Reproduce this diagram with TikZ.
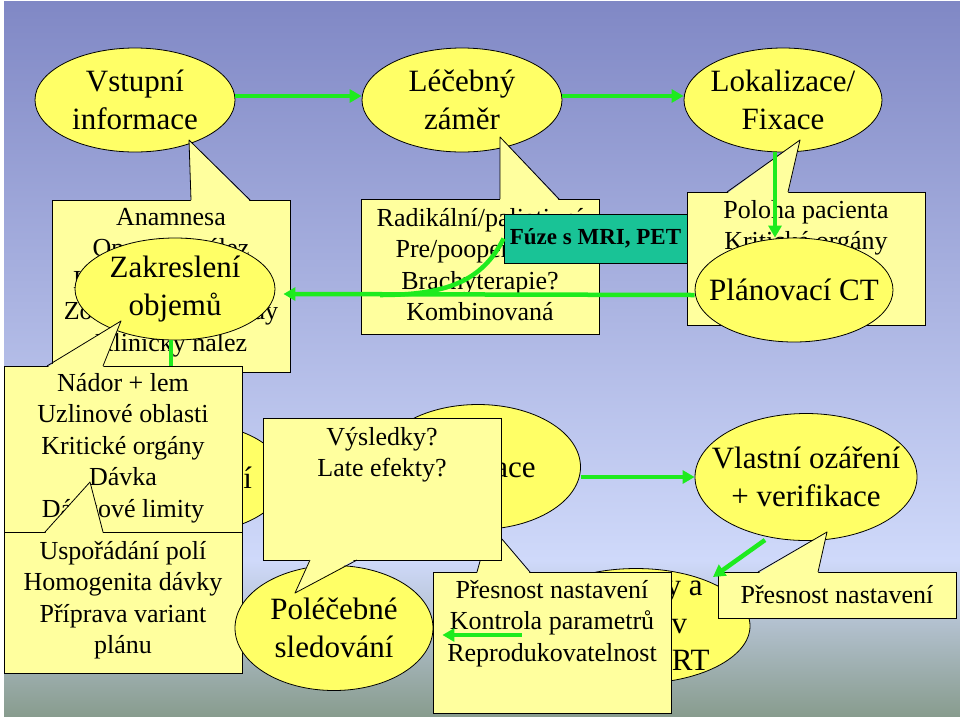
\documentclass[tikz,border=0pt]{standalone}
\usepackage{fontspec}
\setmainfont{Liberation Serif}
\usetikzlibrary{shapes.geometric,arrows.meta}
\definecolor{bgtop}{RGB}{128,136,197}
\definecolor{bgmid}{RGB}{207,217,250}
\definecolor{bgbot}{RGB}{136,156,142}
\definecolor{stagefill}{RGB}{255,255,102}
\definecolor{notefill}{RGB}{255,255,158}
\definecolor{flowgreen}{RGB}{30,235,30}
\definecolor{fusefill}{RGB}{25,195,150}
\tikzset{
  stage/.style={ellipse,draw=black,line width=0.8pt,fill=stagefill,
    minimum width=200pt,minimum height=104pt,inner xsep=-30pt,inner ysep=-25pt,
    align=center,font=\fontsize{31}{37.5}\selectfont},
  notebox/.style={rectangle,draw=black,line width=0.8pt,fill=notefill,
    minimum width=238pt,inner sep=0pt,align=center,
    font=\fontsize{26}{31.5}\selectfont},
  notetext/.style={anchor=north,inner sep=0pt,align=center,
    font=\fontsize{26}{31.5}\selectfont,execute at begin node=\strut},
  notetip/.style={fill=notefill},
  tipedge/.style={draw=black,line width=0.8pt,line join=round},
  flow/.style={line width=4.5pt,flowgreen,-{Triangle[length=12pt,width=13pt]}},
  flowline/.style={line width=4.5pt,flowgreen},
  fusebox/.style={rectangle,draw=black,line width=0.8pt,fill=fusefill,
    minimum width=183pt,minimum height=49pt,inner sep=0pt,
    font=\fontsize{23}{27}\selectfont\bfseries}
}
\begin{document}
\begin{tikzpicture}[x=1pt,y=-1pt]
  \useasboundingbox (0,0) rectangle (960,716);
  % background
  \fill[white] (0,0) rectangle (960,716);
  \fill[top color=bgtop,bottom color=bgmid] (4,1) rectangle (960,560);
  \fill[top color=bgmid,bottom color=bgbot] (4,560) rectangle (960,716);

  % top row
  \node[stage] (vstup) at (135,100) {Vstupní\\informace};
  \node[stage] (zamer) at (462,100) {Léčebný\\záměr};
  \node[stage,minimum width=198pt] (lokal) at (783,100) {Lokalizace/\\Fixace};
  \draw[flow] ([yshift=4pt]vstup.east) -- ([yshift=4pt]zamer.west);
  \draw[flow] ([yshift=4pt]zamer.east) -- ([yshift=4pt]lokal.west);

  % input information
  \node[notebox,minimum height=172pt] (anambox) at (171,286) {};
  \fill[notetip] (191,201.5) -- (189,140) -- (250,201.5) -- cycle;
  \draw[tipedge] (191,200) -- (189,140) -- (250,200);
  \node[notetext] (anam) at (171,208)
    {Anamnesa\\Operační nález\\Histologický nález\\Zobrazovací metody\\Klinický nález};
  \node[stage,minimum height=102pt] (zakres) at (175,289) {Zakreslení\\objemů};

  % treatment intent
  \node[notebox,minimum height=135pt] (radikbox) at (480,266.5) {};
  \fill[notetip] (500,200.5) -- (500,137) -- (559,200.5) -- cycle;
  \draw[tipedge] (500,199) -- (500,137) -- (559,199);
  \node[notetext] (radik) at (480,208)
    {Radikální/paliativní\\Pre/pooperační?\\Brachyterapie?\\Kombinovaná};

  % localisation
  \node[notebox,minimum height=133pt] (polohabox) at (806,258.5) {};
  \fill[notetip] (727,193.5) -- (800,140) -- (788,193.5) -- cycle;
  \draw[tipedge] (727,192) -- (800,140) -- (788,192);
  \node[notetext] (poloha) at (806,200) {Poloha pacienta\\Kritické orgány};
  \node[stage,minimum width=198pt] (planct) at (794,290) {Plánovací CT};
  \draw[flow] ([xshift=-8pt]lokal.south) -- ([xshift=-19pt]planct.north);

  \node[fusebox] (fuze) at (595.5,238.5) {Fúze s MRI, PET};
  \draw[flow] ([yshift=-5pt]planct.west) -- ([xshift=8pt,yshift=-5pt]zakres.east);
  \draw[flowline] (fuze.west) .. controls (482,282) and (445,295) .. (380,295);

  % planning
  \node[stage,minimum width=190pt,minimum height=110pt] (planov) at (190,478) {Plánování};
  \draw[flow] ([xshift=-4pt]zakres.south) -- ([xshift=-19pt]planov.north);

  \node[notebox,minimum height=166pt] (nadorbox) at (123,449) {};
  \fill[notetip] (47,367.5) -- (121,321) -- (103,367.5) -- cycle;
  \draw[tipedge] (47,366) -- (121,321) -- (103,366);
  \node[notetext] (nador) at (123,373)
    {Nádor + lem\\Uzlinové oblasti\\Kritické orgány\\Dávka\\Dávkové limity};

  \node[notebox,minimum height=141pt] (usporbox) at (123,602.5) {};
  \fill[notetip] (45,533.5) -- (90,482) -- (103,533.5) -- cycle;
  \draw[tipedge] (45,532) -- (90,482) -- (103,532);
  \node[notetext] (uspor) at (123,541)
    {Uspořádání polí\\Homogenita dávky\\Příprava variant\\plánu};

  % simulation and checks
  \node[stage,minimum width=205pt,minimum height=125pt] (simul) at (478,467) {Simulace};
  \node[stage,minimum width=228pt,minimum height=115pt] (kontr) at (636,626)
    {Kontroly a\\zápisy v\\průběhu RT};
  \node[notebox,minimum height=141pt] (kontrolbox) at (552,642.5) {};
  \fill[notetip] (477,573.5) -- (490,525) -- (530,573.5) -- cycle;
  \draw[tipedge] (477,572) -- (490,525) -- (530,572);
  \node[notetext] (kontrol) at (552,580)
    {Přesnost nastavení\\Kontrola parametrů\\Reprodukovatelnost};

  \node[stage,minimum width=198pt,minimum height=125pt] (poleceb) at (334,628)
    {Poléčebné\\sledování};
  \draw[flow] ([yshift=-9pt]kontr.west) -- ([xshift=9pt,yshift=-7pt]poleceb.east);

  \node[notebox,minimum height=142pt] (vysledbox) at (382,489) {};
  \fill[notetip] (310,558.5) -- (295,593) -- (357,558.5) -- cycle;
  \draw[tipedge] (310,560) -- (295,593) -- (357,560);
  \node[notetext] (vysled) at (382,427) {Výsledky?\\Late efekty?};

  % irradiation
  \node[stage,minimum width=222pt,minimum height=127pt] (vlast) at (806,477)
    {Vlastní ozáření\\+ verifikace};
  \draw[flow] (simul.east |- vlast.west) -- (vlast.west);

  \node[notebox,minimum height=46pt] (nastav) at (837,595) {Přesnost nastavení};
  \fill[notetip] (758,573.5) -- (827,532) -- (818,573.5) -- cycle;
  \draw[tipedge] (758,572) -- (827,532) -- (818,572);
  \draw[flow] ([shift={(-41,63)}]vlast.center) -- ([shift={(77,-49)}]kontr.center);
\end{tikzpicture}
\end{document}
